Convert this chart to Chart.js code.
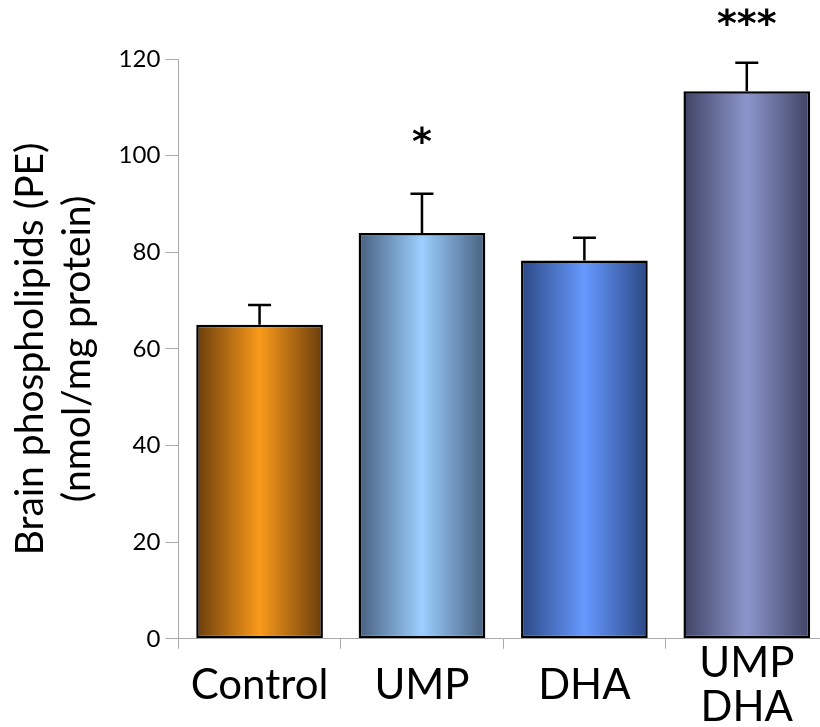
<!DOCTYPE html>
<html>
<head>
<meta charset="utf-8">
<script src="https://cdn.jsdelivr.net/npm/chart.js@4/dist/chart.umd.min.js"></script>
<style>
  html, body { margin: 0; padding: 0; background: #fff; overflow: hidden; }
  #wrap { width: 828px; height: 767px; }
</style>
</head>
<body>
<div id="wrap"><canvas id="pe_chart" width="828" height="767"></canvas></div>
<script>
// data
var groups = [['Control'], ['UMP'], ['DHA'], ['UMP', 'DHA']];
var means = [65, 84, 78.3, 113.3];
var errTop = [69.1, 92.1, 83, 119.2];
var stars = ['', '*', '', '***'];
var yTicks = [0, 20, 40, 60, 80, 100, 120];

// edge / centre colours of each bar's shading
var edgeCols = ['#6a3d0c', '#47607f', '#2c4885', '#3f4364'];
var midCols = ['#fa9a1a', '#9ccfff', '#6699ff', '#8c96cc'];

var BAR_FRAC = 0.78;
var fontName = 'Lato, "DejaVu Sans", sans-serif';

function barShade(context) {
    var chart = context.chart;
    var i = context.dataIndex;
    if (!chart.chartArea || !chart.scales.x) return midCols[i];
    var x = chart.scales.x.getPixelForValue(i);
    var half = chart.chartArea.width / groups.length * BAR_FRAC / 2;
    var g = chart.ctx.createLinearGradient(x - half, 0, x + half, 0);
    g.addColorStop(0, edgeCols[i]);
    g.addColorStop(0.5, midCols[i]);
    g.addColorStop(1, edgeCols[i]);
    return g;
}

// error bars + significance stars
var errorBars = {
    id: 'errorBars',
    afterDatasetsDraw: function(chart) {
        var ctx = chart.ctx;
        var xs = chart.scales.x, ys = chart.scales.y;
        ctx.save();
        ctx.strokeStyle = '#000';
        ctx.lineWidth = 2.5;
        for (var i = 0; i < means.length; i++) {
            var x = xs.getPixelForValue(i);
            var y0 = ys.getPixelForValue(means[i]);
            var y1 = ys.getPixelForValue(errTop[i]);
            ctx.beginPath();
            ctx.moveTo(x, y0);
            ctx.lineTo(x, y1);
            ctx.moveTo(x - 11.5, y1);
            ctx.lineTo(x + 11.5, y1);
            ctx.stroke();
            if (stars[i]) {
                ctx.fillStyle = '#000';
                ctx.font = 'bold 38px "DejaVu Sans", sans-serif';
                ctx.textAlign = 'center';
                ctx.textBaseline = 'middle';
                var off = stars[i].length > 1 ? 37 : 50;
                ctx.fillText(stars[i], x, y1 - off);
            }
        }
        ctx.restore();
    }
};

var ctx = document.getElementById('pe_chart');
var chart = new Chart(ctx, {
    type: 'bar',
    data: {
        labels: groups,
        datasets: [{
            data: means,
            backgroundColor: barShade,
            borderColor: '#000',
            borderWidth: 2.5,
            borderSkipped: false,
            barPercentage: BAR_FRAC,
            categoryPercentage: 1.0
        }]
    },
    options: {
        responsive: false,
        animation: false,
        layout: { padding: { top: 59, right: 0, left: 7, bottom: 0 } },
        plugins: {
            legend: { display: false },
            tooltip: { enabled: false }
        },
        scales: {
            x: {
                grid: { drawOnChartArea: false, color: '#aaa', tickLength: 10, offset: true },
                border: { color: '#aaa', width: 1 },
                ticks: {
                    color: '#000',
                    font: { family: fontName, size: 42, lineHeight: 1.05 },
                    padding: 15,
                    crossAlign: 'center',
                    maxRotation: 0
                }
            },
            y: {
                min: 0,
                max: 120,
                afterBuildTicks: function(axis) {
                    axis.ticks = yTicks.map(function(v) { return { value: v }; });
                },
                grid: { drawOnChartArea: false, color: '#aaa', tickLength: 13 },
                border: { color: '#aaa', width: 1 },
                ticks: {
                    color: '#000',
                    font: { family: fontName, size: 24 },
                    padding: 5
                },
                title: {
                    display: true,
                    text: ['Brain phospholipids (PE)', '(nmol/mg protein)'],
                    color: '#000',
                    font: { family: fontName, size: 39, lineHeight: 1.2 },
                    padding: { top: 0, bottom: 13 }
                }
            }
        }
    },
    plugins: [errorBars]
});
</script>
</body>
</html>
